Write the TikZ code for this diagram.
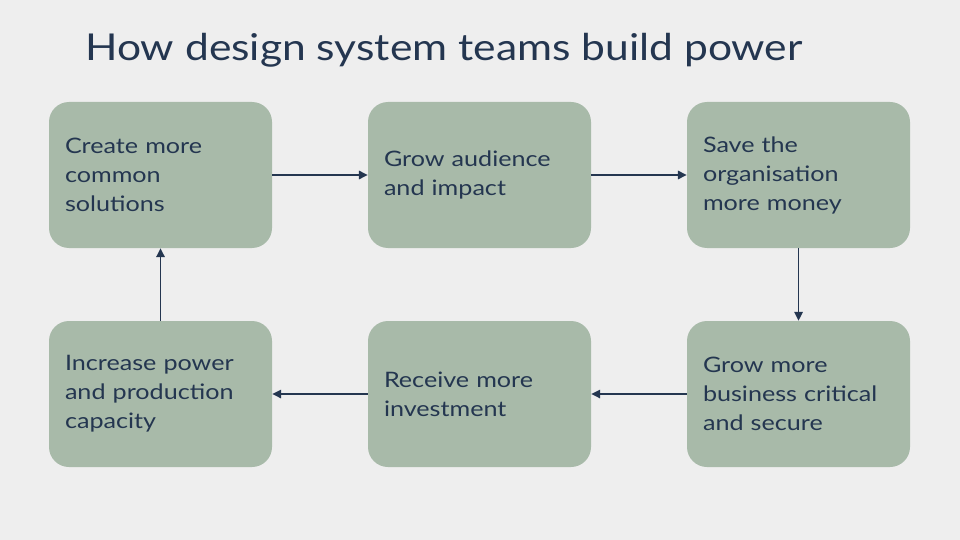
\documentclass[tikz,border=0pt]{standalone}
\usepackage{fontspec}
\setmainfont{Lato}[FakeStretch=1.18]
\newfontfamily\titlefont{Lato}[FakeStretch=1.15]
\usetikzlibrary{arrows.meta}
\definecolor{bg}{HTML}{EEEEEE}
\definecolor{boxfill}{HTML}{A8BAA9}
\definecolor{ink}{HTML}{243650}
\begin{document}
\begin{tikzpicture}[x=1pt,y=-1pt,
  stepbox/.style={fill=boxfill, rounded corners=20pt, minimum width=223pt, minimum height=146pt,
    text width=191pt, align=left, inner xsep=16pt, inner ysep=0pt, text=ink,
    font=\fontsize{21.3}{29}\selectfont},
  conn/.style={draw=ink, line width=1.6pt, -{Triangle[length=9pt,width=8.5pt]}}]
\fill[bg] (0,0) rectangle (960,540);
\useasboundingbox (0,0) rectangle (960,540);
\node[anchor=base west, text=ink, font=\titlefont\fontsize{37}{40}\selectfont, inner sep=0pt] (title) at (85,61) {How design system teams build power};
\node[stepbox] (b1) at (160.5,175) {Create more\\common\\solutions};
\node[stepbox] (b2) at (479.5,175) {Grow audience\\and impact};
\node[stepbox] (b3) at (798.5,175) {Save the\\organisation\\more money};
\node[stepbox] (b4) at (160.5,394) {Increase power\\and production\\capacity};
\node[stepbox] (b5) at (479.5,394) {Receive more\\investment};
\node[stepbox] (b6) at (798.5,394) {Grow more\\business critical\\and secure};
\draw[conn] (b1) -- (b2);
\draw[conn] (b2) -- (b3);
\draw[conn] (b3) -- (b6);
\draw[conn] (b6) -- (b5);
\draw[conn] (b5) -- (b4);
\draw[conn] (b4) -- (b1);
\end{tikzpicture}
\end{document}
